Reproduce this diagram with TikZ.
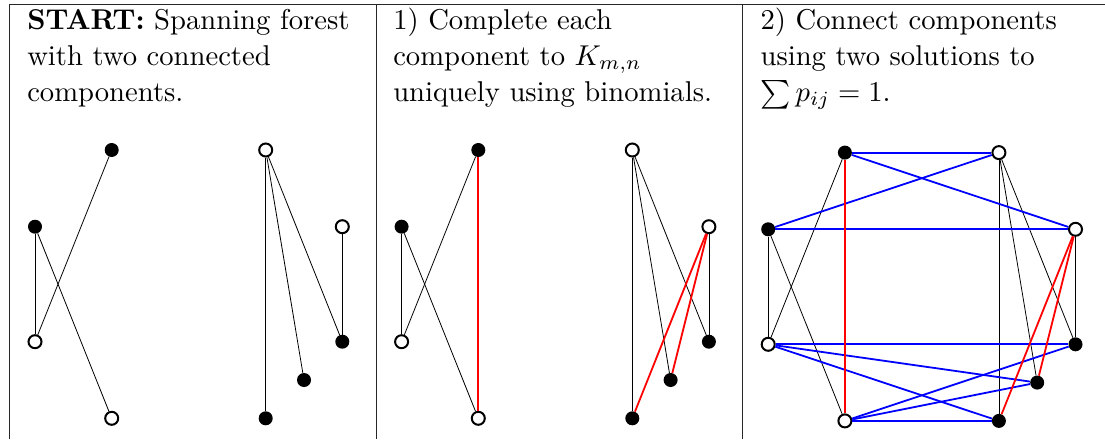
\documentclass[tikz,border=0pt]{standalone}
\begin{document}
\begin{tikzpicture}[x=1pt,y=-1pt,
  fv/.style={circle,fill=black,inner sep=0pt,minimum size=14pt},
  ov/.style={circle,draw=black,fill=white,line width=2pt,inner sep=0pt,minimum size=13pt},
  tree/.style={draw=black,line width=0.8pt},
  redE/.style={draw=red,line width=1.8pt},
  blueE/.style={draw=blue,line width=1.8pt},
  rule/.style={draw=black!85,line width=1pt},
  lbl/.style={anchor=base west,inner sep=0pt,scale=2.865,transform shape,font=\normalsize}]
\useasboundingbox (0,0) rectangle (1105,439);
% table rules
\coordinate (tl) at (9.5,4);
\coordinate (tr) at (1105,4);
\coordinate (bl) at (9.5,439);
\coordinate (s1t) at (376,4);
\coordinate (s1b) at (376,439);
\coordinate (s2t) at (742.5,4);
\coordinate (s2b) at (742.5,439);
\draw[rule] (bl) -- (tl) -- (tr);
\draw[rule] (s1t) -- (s1b);
\draw[rule] (s2t) -- (s2b);
% texts
\node[lbl] (t11) at (26.7,29.3) {\textbf{START:} Spanning forest};
\node[lbl] (t12) at (26.7,65.3) {with two connected};
\node[lbl] (t13) at (26.7,101.7) {components.};
\node[lbl] (t21) at (392.7,29.3) {1) Complete each};
\node[lbl] (t22) at (392.7,65.3) {component to $K_{m,n}$};
\node[lbl] (t23) at (392.7,101.7) {uniquely using binomials.};
\node[lbl] (t31) at (760,29.3) {2) Connect components};
\node[lbl] (t32) at (760,65.3) {using two solutions to};
\node[lbl] (t33) at (760,101.7) {$\sum p_{ij} = 1$.};
% panel 1
\begin{scope}
\node[fv] (aA) at (111.7,150) {};
\node[fv] (aB) at (35,226.7) {};
\node[ov] (aC) at (35,341.7) {};
\node[ov] (aD) at (111.7,418.3) {};
\node[ov] (aE) at (265.7,150) {};
\node[ov] (aF) at (342.3,226.7) {};
\node[fv] (aG) at (342.3,341.7) {};
\node[fv] (aH) at (304,380) {};
\node[fv] (aI) at (265.7,418.3) {};
\end{scope}
\foreach \u/\v in {B/C,B/D,A/C,E/I,E/H,E/G,F/G} \draw[tree] (a\u) -- (a\v);
% panel 2
\begin{scope}[shift={(366.6,0)}]
\node[fv] (bA) at (111.7,150) {};
\node[fv] (bB) at (35,226.7) {};
\node[ov] (bC) at (35,341.7) {};
\node[ov] (bD) at (111.7,418.3) {};
\node[ov] (bE) at (265.7,150) {};
\node[ov] (bF) at (342.3,226.7) {};
\node[fv] (bG) at (342.3,341.7) {};
\node[fv] (bH) at (304,380) {};
\node[fv] (bI) at (265.7,418.3) {};
\end{scope}
\foreach \u/\v in {B/C,B/D,A/C,E/I,E/H,E/G,F/G} \draw[tree] (b\u) -- (b\v);
\foreach \u/\v in {A/D,F/I,F/H} \draw[redE] (b\u) -- (b\v);
% panel 3
\begin{scope}[shift={(733.2,2.6)}]
\node[fv] (cA) at (111.7,150) {};
\node[fv] (cB) at (35,226.7) {};
\node[ov] (cC) at (35,341.7) {};
\node[ov] (cD) at (111.7,418.3) {};
\node[ov] (cE) at (265.7,150) {};
\node[ov] (cF) at (342.3,226.7) {};
\node[fv] (cG) at (342.3,341.7) {};
\node[fv] (cH) at (304,380) {};
\node[fv] (cI) at (265.7,418.3) {};
\end{scope}
\foreach \u/\v in {B/C,B/D,A/C,E/I,E/H,E/G,F/G} \draw[tree] (c\u) -- (c\v);
\foreach \u/\v in {A/E,A/F,E/B,B/F,C/G,C/H,C/I,D/G,D/H,D/I} \draw[blueE] (c\u) -- (c\v);
\foreach \u/\v in {A/D,F/I,F/H} \draw[redE] (c\u) -- (c\v);
\end{tikzpicture}
\end{document}
